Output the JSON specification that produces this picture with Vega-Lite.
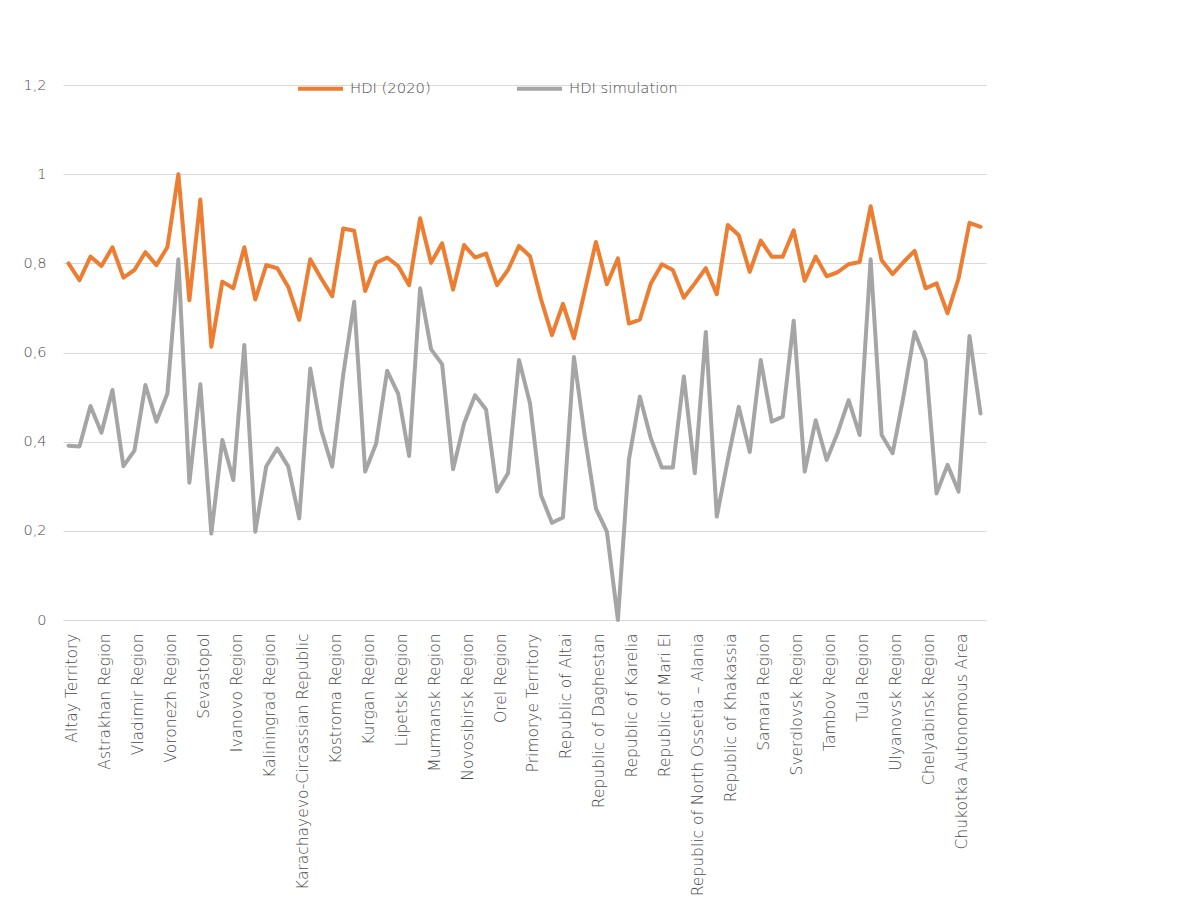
{
  "$schema": "https://vega.github.io/schema/vega-lite/v6.json",
  "autosize": "none",
  "width": 923,
  "height": 535,
  "padding": {"left": 63, "top": 85, "right": 213, "bottom": 288},
  "background": "white",
  "data": {"values": [
    {"region":"Altay Territory","series":"HDI (2020)","value":0.800},
    {"region":"Amur Region","series":"HDI (2020)","value":0.762},
    {"region":"Arkhangelsk Region","series":"HDI (2020)","value":0.815},
    {"region":"Astrakhan Region","series":"HDI (2020)","value":0.794},
    {"region":"Belgorod Region","series":"HDI (2020)","value":0.836},
    {"region":"Bryansk Region","series":"HDI (2020)","value":0.768},
    {"region":"Vladimir Region","series":"HDI (2020)","value":0.785},
    {"region":"Volgograd Region","series":"HDI (2020)","value":0.825},
    {"region":"Vologda Region","series":"HDI (2020)","value":0.796},
    {"region":"Voronezh Region","series":"HDI (2020)","value":0.836},
    {"region":"Moscow","series":"HDI (2020)","value":1.000},
    {"region":"Saint Petersburg","series":"HDI (2020)","value":0.717},
    {"region":"Sevastopol","series":"HDI (2020)","value":0.943},
    {"region":"Jewish Autonomous Region","series":"HDI (2020)","value":0.613},
    {"region":"Zabaykalsky Territory","series":"HDI (2020)","value":0.759},
    {"region":"Ivanovo Region","series":"HDI (2020)","value":0.744},
    {"region":"Irkutsk Region","series":"HDI (2020)","value":0.836},
    {"region":"Kabardino-Balkarian Republic","series":"HDI (2020)","value":0.719},
    {"region":"Kaliningrad Region","series":"HDI (2020)","value":0.796},
    {"region":"Kaluga Region","series":"HDI (2020)","value":0.789},
    {"region":"Kamchatka Territory","series":"HDI (2020)","value":0.747},
    {"region":"Karachayevo-Circassian Republic","series":"HDI (2020)","value":0.673},
    {"region":"Kemerovo Region","series":"HDI (2020)","value":0.809},
    {"region":"Kirov Region","series":"HDI (2020)","value":0.766},
    {"region":"Kostroma Region","series":"HDI (2020)","value":0.726},
    {"region":"Krasnodar Territory","series":"HDI (2020)","value":0.878},
    {"region":"Krasnoyarsk Territory","series":"HDI (2020)","value":0.873},
    {"region":"Kurgan Region","series":"HDI (2020)","value":0.738},
    {"region":"Kursk Region","series":"HDI (2020)","value":0.801},
    {"region":"Leningrad Region","series":"HDI (2020)","value":0.813},
    {"region":"Lipetsk Region","series":"HDI (2020)","value":0.794},
    {"region":"Magadan Region","series":"HDI (2020)","value":0.751},
    {"region":"Moscow Region","series":"HDI (2020)","value":0.901},
    {"region":"Murmansk Region","series":"HDI (2020)","value":0.801},
    {"region":"Nizhny Novgorod Region","series":"HDI (2020)","value":0.845},
    {"region":"Novgorod Region","series":"HDI (2020)","value":0.741},
    {"region":"Novosibirsk Region","series":"HDI (2020)","value":0.841},
    {"region":"Omsk Region","series":"HDI (2020)","value":0.813},
    {"region":"Orenburg Region","series":"HDI (2020)","value":0.822},
    {"region":"Orel Region","series":"HDI (2020)","value":0.751},
    {"region":"Penza Region","series":"HDI (2020)","value":0.785},
    {"region":"Perm Territory","series":"HDI (2020)","value":0.839},
    {"region":"Primorye Territory","series":"HDI (2020)","value":0.816},
    {"region":"Pskov Region","series":"HDI (2020)","value":0.720},
    {"region":"Republic of Adygeya","series":"HDI (2020)","value":0.639},
    {"region":"Republic of Altai","series":"HDI (2020)","value":0.709},
    {"region":"Republic of Bashkortostan","series":"HDI (2020)","value":0.632},
    {"region":"Republic of Buryatia","series":"HDI (2020)","value":0.740},
    {"region":"Republic of Daghestan","series":"HDI (2020)","value":0.848},
    {"region":"Republic of Ingushetia","series":"HDI (2020)","value":0.753},
    {"region":"Republic of Kalmykia","series":"HDI (2020)","value":0.811},
    {"region":"Republic of Karelia","series":"HDI (2020)","value":0.665},
    {"region":"Komi Republic","series":"HDI (2020)","value":0.674},
    {"region":"Republic of Crimea","series":"HDI (2020)","value":0.755},
    {"region":"Republic of Mari El","series":"HDI (2020)","value":0.798},
    {"region":"Republic of Mordovia","series":"HDI (2020)","value":0.785},
    {"region":"Republic of Sakha (Yakutia)","series":"HDI (2020)","value":0.723},
    {"region":"Republic of North Ossetia – Alania","series":"HDI (2020)","value":0.755},
    {"region":"Republic of Tatarstan","series":"HDI (2020)","value":0.789},
    {"region":"Republic of Tyva","series":"HDI (2020)","value":0.731},
    {"region":"Republic of Khakassia","series":"HDI (2020)","value":0.886},
    {"region":"Rostov Region","series":"HDI (2020)","value":0.863},
    {"region":"Ryazan Region","series":"HDI (2020)","value":0.781},
    {"region":"Samara Region","series":"HDI (2020)","value":0.851},
    {"region":"Saratov Region","series":"HDI (2020)","value":0.815},
    {"region":"Sakhalin Region","series":"HDI (2020)","value":0.815},
    {"region":"Sverdlovsk Region","series":"HDI (2020)","value":0.874},
    {"region":"Smolensk Region","series":"HDI (2020)","value":0.761},
    {"region":"Stavropol Territory","series":"HDI (2020)","value":0.815},
    {"region":"Tambov Region","series":"HDI (2020)","value":0.771},
    {"region":"Tver Region","series":"HDI (2020)","value":0.780},
    {"region":"Tomsk Region","series":"HDI (2020)","value":0.798},
    {"region":"Tula Region","series":"HDI (2020)","value":0.803},
    {"region":"Tyumen Region","series":"HDI (2020)","value":0.928},
    {"region":"Udmurt Republic","series":"HDI (2020)","value":0.807},
    {"region":"Ulyanovsk Region","series":"HDI (2020)","value":0.776},
    {"region":"Khabarovsk Territory","series":"HDI (2020)","value":0.803},
    {"region":"Khanty-Mansi Autonomous Area","series":"HDI (2020)","value":0.828},
    {"region":"Chelyabinsk Region","series":"HDI (2020)","value":0.744},
    {"region":"Chechen Republic","series":"HDI (2020)","value":0.755},
    {"region":"Chuvash Republic","series":"HDI (2020)","value":0.688},
    {"region":"Chukotka Autonomous Area","series":"HDI (2020)","value":0.766},
    {"region":"Yamalo-Nenets Autonomous Area","series":"HDI (2020)","value":0.891},
    {"region":"Yaroslavl Region","series":"HDI (2020)","value":0.882},
    {"region":"Altay Territory","series":"HDI simulation","value":0.391},
    {"region":"Amur Region","series":"HDI simulation","value":0.389},
    {"region":"Arkhangelsk Region","series":"HDI simulation","value":0.480},
    {"region":"Astrakhan Region","series":"HDI simulation","value":0.420},
    {"region":"Belgorod Region","series":"HDI simulation","value":0.516},
    {"region":"Bryansk Region","series":"HDI simulation","value":0.345},
    {"region":"Vladimir Region","series":"HDI simulation","value":0.380},
    {"region":"Volgograd Region","series":"HDI simulation","value":0.527},
    {"region":"Vologda Region","series":"HDI simulation","value":0.445},
    {"region":"Voronezh Region","series":"HDI simulation","value":0.508},
    {"region":"Moscow","series":"HDI simulation","value":0.809},
    {"region":"Saint Petersburg","series":"HDI simulation","value":0.308},
    {"region":"Sevastopol","series":"HDI simulation","value":0.529},
    {"region":"Jewish Autonomous Region","series":"HDI simulation","value":0.194},
    {"region":"Zabaykalsky Territory","series":"HDI simulation","value":0.404},
    {"region":"Ivanovo Region","series":"HDI simulation","value":0.314},
    {"region":"Irkutsk Region","series":"HDI simulation","value":0.617},
    {"region":"Kabardino-Balkarian Republic","series":"HDI simulation","value":0.198},
    {"region":"Kaliningrad Region","series":"HDI simulation","value":0.345},
    {"region":"Kaluga Region","series":"HDI simulation","value":0.385},
    {"region":"Kamchatka Territory","series":"HDI simulation","value":0.344},
    {"region":"Karachayevo-Circassian Republic","series":"HDI simulation","value":0.228},
    {"region":"Kemerovo Region","series":"HDI simulation","value":0.564},
    {"region":"Kirov Region","series":"HDI simulation","value":0.426},
    {"region":"Kostroma Region","series":"HDI simulation","value":0.344},
    {"region":"Krasnodar Territory","series":"HDI simulation","value":0.550},
    {"region":"Krasnoyarsk Territory","series":"HDI simulation","value":0.714},
    {"region":"Kurgan Region","series":"HDI simulation","value":0.333},
    {"region":"Kursk Region","series":"HDI simulation","value":0.396},
    {"region":"Leningrad Region","series":"HDI simulation","value":0.559},
    {"region":"Lipetsk Region","series":"HDI simulation","value":0.508},
    {"region":"Magadan Region","series":"HDI simulation","value":0.368},
    {"region":"Moscow Region","series":"HDI simulation","value":0.744},
    {"region":"Murmansk Region","series":"HDI simulation","value":0.607},
    {"region":"Nizhny Novgorod Region","series":"HDI simulation","value":0.574},
    {"region":"Novgorod Region","series":"HDI simulation","value":0.338},
    {"region":"Novosibirsk Region","series":"HDI simulation","value":0.441},
    {"region":"Omsk Region","series":"HDI simulation","value":0.504},
    {"region":"Orenburg Region","series":"HDI simulation","value":0.472},
    {"region":"Orel Region","series":"HDI simulation","value":0.288},
    {"region":"Penza Region","series":"HDI simulation","value":0.329},
    {"region":"Perm Territory","series":"HDI simulation","value":0.583},
    {"region":"Primorye Territory","series":"HDI simulation","value":0.486},
    {"region":"Pskov Region","series":"HDI simulation","value":0.280},
    {"region":"Republic of Adygeya","series":"HDI simulation","value":0.218},
    {"region":"Republic of Altai","series":"HDI simulation","value":0.230},
    {"region":"Republic of Bashkortostan","series":"HDI simulation","value":0.590},
    {"region":"Republic of Buryatia","series":"HDI simulation","value":0.410},
    {"region":"Republic of Daghestan","series":"HDI simulation","value":0.250},
    {"region":"Republic of Ingushetia","series":"HDI simulation","value":0.198},
    {"region":"Republic of Kalmykia","series":"HDI simulation","value":0.000},
    {"region":"Republic of Karelia","series":"HDI simulation","value":0.359},
    {"region":"Komi Republic","series":"HDI simulation","value":0.501},
    {"region":"Republic of Crimea","series":"HDI simulation","value":0.407},
    {"region":"Republic of Mari El","series":"HDI simulation","value":0.342},
    {"region":"Republic of Mordovia","series":"HDI simulation","value":0.342},
    {"region":"Republic of Sakha (Yakutia)","series":"HDI simulation","value":0.546},
    {"region":"Republic of North Ossetia – Alania","series":"HDI simulation","value":0.329},
    {"region":"Republic of Tatarstan","series":"HDI simulation","value":0.646},
    {"region":"Republic of Tyva","series":"HDI simulation","value":0.232},
    {"region":"Republic of Khakassia","series":"HDI simulation","value":0.359},
    {"region":"Rostov Region","series":"HDI simulation","value":0.478},
    {"region":"Ryazan Region","series":"HDI simulation","value":0.377},
    {"region":"Samara Region","series":"HDI simulation","value":0.583},
    {"region":"Saratov Region","series":"HDI simulation","value":0.445},
    {"region":"Sakhalin Region","series":"HDI simulation","value":0.456},
    {"region":"Sverdlovsk Region","series":"HDI simulation","value":0.671},
    {"region":"Smolensk Region","series":"HDI simulation","value":0.333},
    {"region":"Stavropol Territory","series":"HDI simulation","value":0.448},
    {"region":"Tambov Region","series":"HDI simulation","value":0.359},
    {"region":"Tver Region","series":"HDI simulation","value":0.420},
    {"region":"Tomsk Region","series":"HDI simulation","value":0.493},
    {"region":"Tula Region","series":"HDI simulation","value":0.415},
    {"region":"Tyumen Region","series":"HDI simulation","value":0.809},
    {"region":"Udmurt Republic","series":"HDI simulation","value":0.415},
    {"region":"Ulyanovsk Region","series":"HDI simulation","value":0.374},
    {"region":"Khabarovsk Territory","series":"HDI simulation","value":0.503},
    {"region":"Khanty-Mansi Autonomous Area","series":"HDI simulation","value":0.646},
    {"region":"Chelyabinsk Region","series":"HDI simulation","value":0.583},
    {"region":"Chechen Republic","series":"HDI simulation","value":0.284},
    {"region":"Chuvash Republic","series":"HDI simulation","value":0.348},
    {"region":"Chukotka Autonomous Area","series":"HDI simulation","value":0.288},
    {"region":"Yamalo-Nenets Autonomous Area","series":"HDI simulation","value":0.637},
    {"region":"Yaroslavl Region","series":"HDI simulation","value":0.463}
  ]},
  "mark": {"type": "line", "strokeWidth": 4, "strokeJoin": "round", "strokeCap": "round"},
  "encoding": {
    "x": {
      "field": "region",
      "type": "nominal",
      "sort": null,
      "axis": {
        "title": null,
        "values": ["Altay Territory","Astrakhan Region","Vladimir Region","Voronezh Region","Sevastopol","Ivanovo Region","Kaliningrad Region","Karachayevo-Circassian Republic","Kostroma Region","Kurgan Region","Lipetsk Region","Murmansk Region","Novosibirsk Region","Orel Region","Primorye Territory","Republic of Altai","Republic of Daghestan","Republic of Karelia","Republic of Mari El","Republic of North Ossetia – Alania","Republic of Khakassia","Samara Region","Sverdlovsk Region","Tambov Region","Tula Region","Ulyanovsk Region","Chelyabinsk Region","Chukotka Autonomous Area"],
        "labelAngle": -90,
        "labelAlign": "right",
        "labelBaseline": "middle",
        "labelPadding": 13,
        "labelOffset": 3,
        "labelFont": "DejaVu Sans",
        "labelFontWeight": 300,
        "labelFontSize": 15.5,
        "labelColor": "#4a4a4a",
        "labelLimit": 400,
        "labelOverlap": false,
        "ticks": false,
        "grid": false,
        "domainColor": "#d9d9d9",
        "domainWidth": 1
      }
    },
    "y": {
      "field": "value",
      "type": "quantitative",
      "scale": {"domain": [0, 1.2], "nice": false, "zero": true},
      "axis": {
        "title": null,
        "values": [0, 0.2, 0.4, 0.6, 0.8, 1, 1.2],
        "labelExpr": "replace(format(datum.value, '~g'), '.', ',')",
        "domain": false,
        "ticks": false,
        "grid": true,
        "gridColor": "#d9d9d9",
        "gridWidth": 1,
        "labelPadding": 17,
        "labelFont": "DejaVu Sans",
        "labelFontWeight": 300,
        "labelFontSize": 14.5,
        "labelColor": "#4a4a4a"
      }
    },
    "color": {
      "field": "series",
      "type": "nominal",
      "scale": {"domain": ["HDI (2020)", "HDI simulation"], "range": ["#ED7D31", "#A5A5A5"]},
      "legend": {
        "title": null,
        "orient": "none",
        "legendX": 233,
        "legendY": -21,
        "direction": "horizontal",
        "symbolType": "stroke",
        "symbolSize": 2025,
        "symbolStrokeWidth": 4,
        "labelFont": "DejaVu Sans",
        "labelFontWeight": 300,
        "labelFontSize": 14.8,
        "labelColor": "#4a4a4a",
        "labelOffset": 5,
        "columnPadding": 78
      }
    }
  },
  "config": {"view": {"stroke": null}}
}
